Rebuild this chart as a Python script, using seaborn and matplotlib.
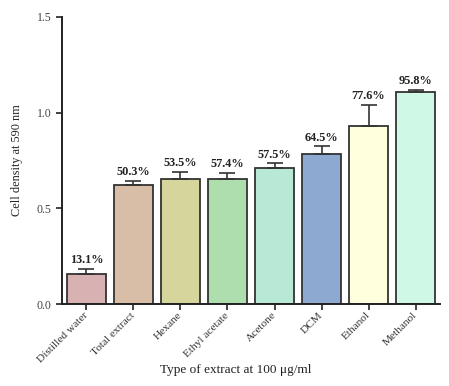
import matplotlib
matplotlib.use("Agg")
import matplotlib.pyplot as plt
import seaborn as sns
import pandas as pd
import numpy as np

categories = ["Distilled water", "Total extract", "Hexane", "Ethyl acetate",
              "Acetone", "DCM", "Ethanol", "Methanol"]
values = [0.157, 0.624, 0.655, 0.653, 0.713, 0.786, 0.932, 1.108]
errors = [0.028, 0.021, 0.035, 0.033, 0.022, 0.038, 0.107, 0.009]
pct_labels = ["13.1%", "50.3%", "53.5%", "57.4%", "57.5%", "64.5%", "77.6%", "95.8%"]
colors = ["#D8B2B2", "#D9BEA7", "#D6D69C", "#AFDEAE", "#B7E9D6", "#8DA9D1", "#FFFEDD", "#CFF8E7"]
yticks = [0.0, 0.5, 1.0, 1.5]

sns.set_style("ticks")
plt.rcParams['font.family'] = ['Liberation Serif', 'DejaVu Serif']

df = pd.DataFrame({"category": categories, "value": values})

fig = plt.figure(figsize=(4.49, 3.86), dpi=100)
ax = fig.add_axes([0.138, 0.212, 0.842, 0.744])

sns.barplot(data=df, x="category", y="value", hue="category", palette=colors,
            saturation=1, edgecolor="#333333", linewidth=1.3, width=0.83,
            errorbar=None, legend=False, ax=ax)

x = np.arange(len(categories))
ax.errorbar(x, values, yerr=[np.zeros(len(values)), errors], fmt="none",
            ecolor="#333333", elinewidth=1.2, capsize=6, capthick=1.2, zorder=1)

for xi, v, e, lab in zip(x, values, errors, pct_labels):
    ax.text(xi, v + e + 0.015, lab, ha="center", va="bottom",
            fontsize=8.8, fontweight="bold", color="#222222")

ax.set_ylim(0, 1.5)
ax.set_xlim(-0.52, 7.52)
ax.set_yticks(yticks)
ax.set_yticklabels([f"{t:.1f}" for t in yticks], fontsize=8.5, color="#444444")
ax.set_xticks(x)
ax.set_xticklabels(categories, rotation=45, ha="right", va="center",
                   rotation_mode="anchor", fontsize=8.2, color="#333333")
ax.tick_params(axis="both", direction="out", length=4, width=1.2, color="#222222")
ax.tick_params(axis="x", pad=3)
ax.set_ylabel("Cell density at 590 nm", fontsize=8.8, color="#222222", labelpad=10)
ax.set_xlabel("Type of extract at 100 μg/ml", fontsize=9.5, color="#222222")
ax.xaxis.set_label_coords(0.46, -0.21)
for s in ["left", "bottom"]:
    ax.spines[s].set_linewidth(1.4)
    ax.spines[s].set_color("#222222")
sns.despine(ax=ax)

fig.savefig("out.png", dpi=100)
